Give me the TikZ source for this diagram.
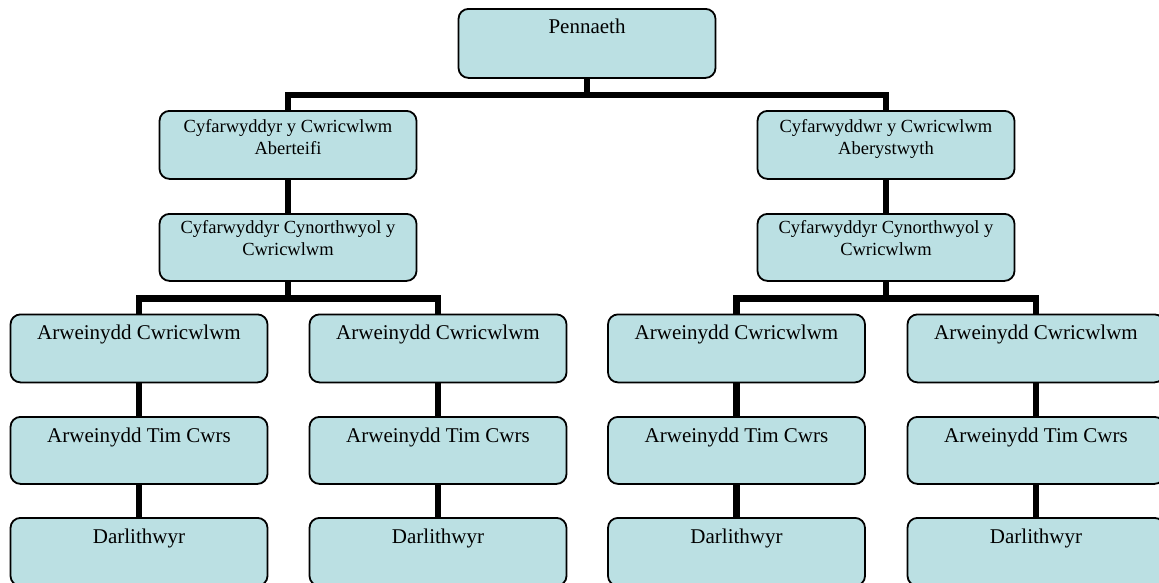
\documentclass[tikz,border=0pt]{standalone}
\usepackage{fontspec}
\setmainfont{Liberation Serif}
\definecolor{boxfill}{RGB}{187,224,227}
\tikzset{
  box/.style={draw=black, line width=1.8pt, fill=boxfill, rounded corners=10pt,
    minimum width=257pt, minimum height=68pt, inner sep=0pt, anchor=north},
  bigtxt/.style={font=\fontsize{21}{25}\selectfont, inner sep=0pt, anchor=north, align=center},
  smalltxt/.style={font=\fontsize{18.5}{22}\selectfont, inner sep=0pt, anchor=north, align=center},
  conn/.style={draw=black, line width=6.5pt}
}
\begin{document}
\begin{tikzpicture}[x=1pt, y=-1pt]
\clip (0,0) rectangle (1159,582);
\fill[white] (0,0) rectangle (1159,582);
% boxes
\node[box, minimum height=69pt] (p) at (587,8) {};
\node[box] (l2a) at (288,110) {};
\node[box] (l2b) at (886,110) {};
\node[box, minimum height=67pt] (l3a) at (288,213) {};
\node[box, minimum height=67pt] (l3b) at (886,213) {};
\foreach \n/\x in {1/139,2/438,3/736.5,4/1036}{
  \node[box] (a\n) at (\x,313.5) {};
  \node[box, minimum height=67pt] (t\n) at (\x,416) {};
  \node[box] (d\n) at (\x,517) {};
}
% connectors
\draw[conn] (p.south) -- ++(0,16) -| (l2a.north);
\draw[conn] (p.south) -- ++(0,16) -| (l2b.north);
\draw[conn] (l2a.south) -- (l3a.north);
\draw[conn] (l2b.south) -- (l3b.north);
\draw[conn] (l3a.south) -- ++(0,16.5) -| (a1.north);
\draw[conn] (l3a.south) -- ++(0,16.5) -| (a2.north);
\draw[conn] (l3b.south) -- ++(0,16.5) -| (a3.north);
\draw[conn] (l3b.south) -- ++(0,16.5) -| (a4.north);
\foreach \n in {1,2,3,4}{
  \draw[conn] (a\n.south) -- (t\n.north);
  \draw[conn] (t\n.south) -- (d\n.north);
}
% texts
\node[bigtxt] (pt) at ([yshift=-10.5pt]p.north) {Pennaeth};
\node[smalltxt] (l2at) at ([yshift=-9pt]l2a.north) {Cyfarwyddyr y Cwricwlwm\\Aberteifi};
\node[smalltxt] (l2bt) at ([yshift=-9pt]l2b.north) {Cyfarwyddwr y Cwricwlwm\\Aberystwyth};
\node[smalltxt] (l3at) at ([yshift=-7pt]l3a.north) {Cyfarwyddyr Cynorthwyol y\\Cwricwlwm};
\node[smalltxt] (l3bt) at ([yshift=-7pt]l3b.north) {Cyfarwyddyr Cynorthwyol y\\Cwricwlwm};
\foreach \n in {1,2,3,4}{
  \node[bigtxt] (at\n) at ([yshift=-11.5pt]a\n.north) {Arweinydd Cwricwlwm};
  \node[bigtxt] (tt\n) at ([yshift=-11.5pt]t\n.north) {Arweinydd Tim Cwrs};
  \node[bigtxt] (dt\n) at ([yshift=-11.5pt]d\n.north) {Darlithwyr};
}
\end{tikzpicture}
\end{document}
